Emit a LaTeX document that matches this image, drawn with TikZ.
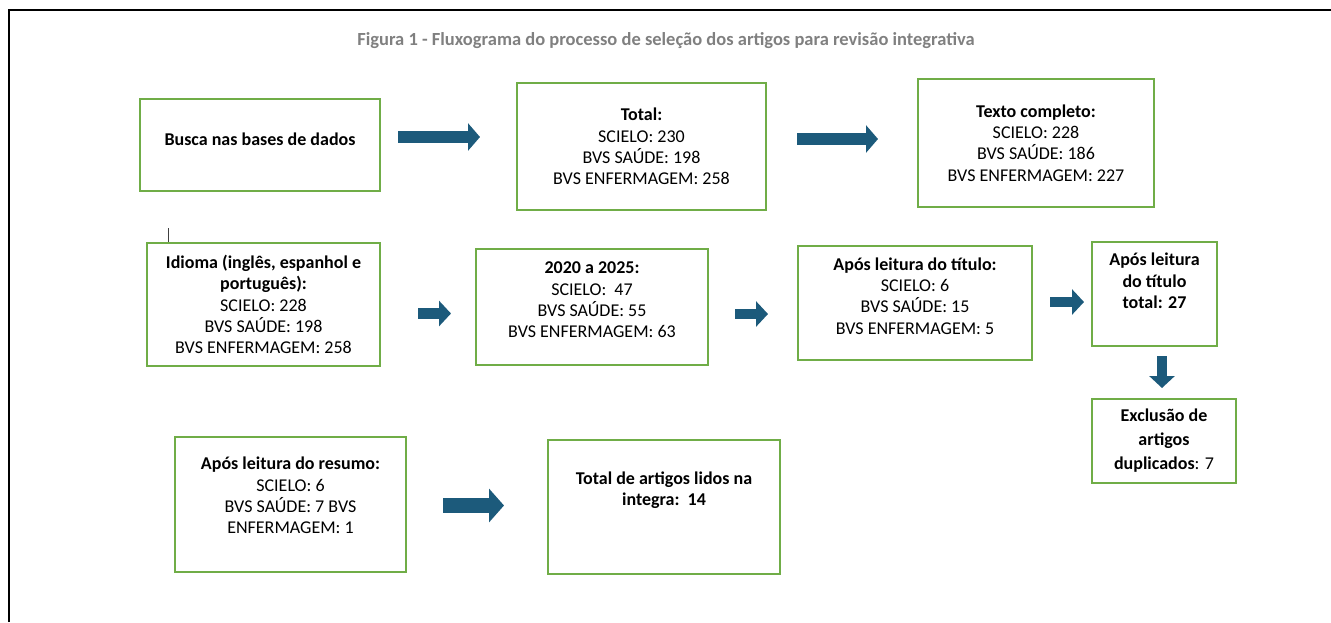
\documentclass[tikz,border=0pt]{standalone}
\usepackage{fontspec}
\setmainfont{Carlito}
\usetikzlibrary{arrows.meta}
\definecolor{boxgreen}{HTML}{70AD47}
\definecolor{arrowblue}{HTML}{1C5A7B}
\definecolor{titlegray}{HTML}{808080}
\tikzstyle{box}=[draw=boxgreen, line width=2pt, inner sep=0pt]
\tikzstyle{txt}=[align=center, inner sep=0pt, font=\fontsize{18}{21.3}\selectfont]
\tikzstyle{bigarrow}=[arrowblue, line width=12pt, -{Triangle[width=27pt,length=12pt]}]
\tikzstyle{smallarrow}=[arrowblue, line width=10.5pt, -{Triangle[width=25pt,length=12pt]}]
\tikzstyle{hugearrow}=[arrowblue, line width=15pt, -{Triangle[width=33pt,length=15pt]}]

\begin{document}
\begin{tikzpicture}[x=1pt, y=-1pt]
		   \useasboundingbox (0,0) rectangle (1331,622);
		   \draw [line width=2pt] (9,622) -- (9,10) -- (1331,10);
		   \node (title) at (666,41) [font=\fontsize{18.5}{20}\selectfont\bfseries, text=titlegray] {Figura 1 - Fluxograma do processo de seleção dos artigos para revisão integrativa};
		   \begin{scope}
			   \node (0) at (260,145) [box, minimum width=240, minimum height=92, label={[txt, yshift=6pt]center:\textbf{Busca nas bases de dados}}] {};
			   \node (1) at (641.5,146.5) [box, minimum width=249, minimum height=127, label={[txt]center:\textbf{Total:}\\SCIELO: 230\\BVS SAÚDE: 198\\BVS ENFERMAGEM: 258}] {};
			   \node (2) at (1036,143) [box, minimum width=236, minimum height=128, label={[txt]center:\textbf{Texto completo:}\\SCIELO: 228\\BVS SAÚDE: 186\\BVS ENFERMAGEM: 227}] {};
			   \node (3) at (263.5,304.5) [box, minimum width=233, minimum height=123, label={[txt]center:\textbf{Idioma (inglês, espanhol e}\\\textbf{português):}\\SCIELO: 228\\BVS SAÚDE: 198\\BVS ENFERMAGEM: 258}] {};
			   \node (4) at (592,307) [box, minimum width=232, minimum height=116, label={[txt, yshift=7pt]center:\textbf{2020 a 2025:}\\SCIELO:~~47\\BVS SAÚDE: 55\\BVS ENFERMAGEM: 63}] {};
			   \node (5) at (915,303) [box, minimum width=234, minimum height=114, label={[txt, yshift=7pt]center:\textbf{Após leitura do título:}\\SCIELO: 6\\BVS SAÚDE: 15\\BVS ENFERMAGEM: 5}] {};
			   \node (6) at (1154.5,294) [box, minimum width=125, minimum height=104, label={[txt, yshift=13pt]center:\textbf{Após leitura}\\\textbf{do título}\\\textbf{total: 27}}] {};
			   \node (7) at (1164,441) [box, minimum width=144, minimum height=84, label={[txt, font=\fontsize{18}{24}\selectfont]center:\textbf{Exclusão de}\\\textbf{artigos}\\\textbf{duplicados}: 7}] {};
			   \node (8) at (290.5,504.5) [box, minimum width=231, minimum height=135, label={[txt, yshift=9pt]center:\textbf{Após leitura do resumo:}\\SCIELO: 6\\BVS SAÚDE: 7 BVS\\ENFERMAGEM: 1}] {};
			   \node (9) at (664,507) [box, minimum width=232, minimum height=134, label={[txt, yshift=17pt]center:\textbf{Total de artigos lidos na}\\\textbf{integra:~~14}}] {};
			   \coordinate (t) at (168,228);
		   \end{scope}
		   \begin{scope}
			   \path (t) edge [line width=1pt, black!75] (t |- 3.north);
			   \path ([yshift=8pt]0.east) edge [bigarrow, shorten <=17pt, shorten >=36pt] ([yshift=9.5pt]1.west);
			   \path ([yshift=7.5pt]1.east) edge [bigarrow, shorten <=30pt, shorten >=39pt] ([yshift=4pt]2.west);
			   \path ([yshift=-9pt]3.east) edge [smallarrow, shorten <=37pt, shorten >=24pt] ([yshift=-6.5pt]4.west);
			   \path ([yshift=-7pt]4.east) edge [smallarrow, shorten <=26pt, shorten >=29pt] ([yshift=-11pt]5.west);
			   \path ([yshift=1pt]5.east) edge [smallarrow, shorten <=17pt, shorten >=7pt] ([yshift=-8pt]6.west);
			   \path ([xshift=7.5pt]6.south) edge [smallarrow, shorten <=9pt, shorten >=10pt] ([xshift=-2pt]7.north);
			   \path ([yshift=-1pt]8.east) edge [hugearrow, shorten <=36pt, shorten >=43pt] ([yshift=1.5pt]9.west);
		   \end{scope}
	   \end{tikzpicture}
\end{document}
